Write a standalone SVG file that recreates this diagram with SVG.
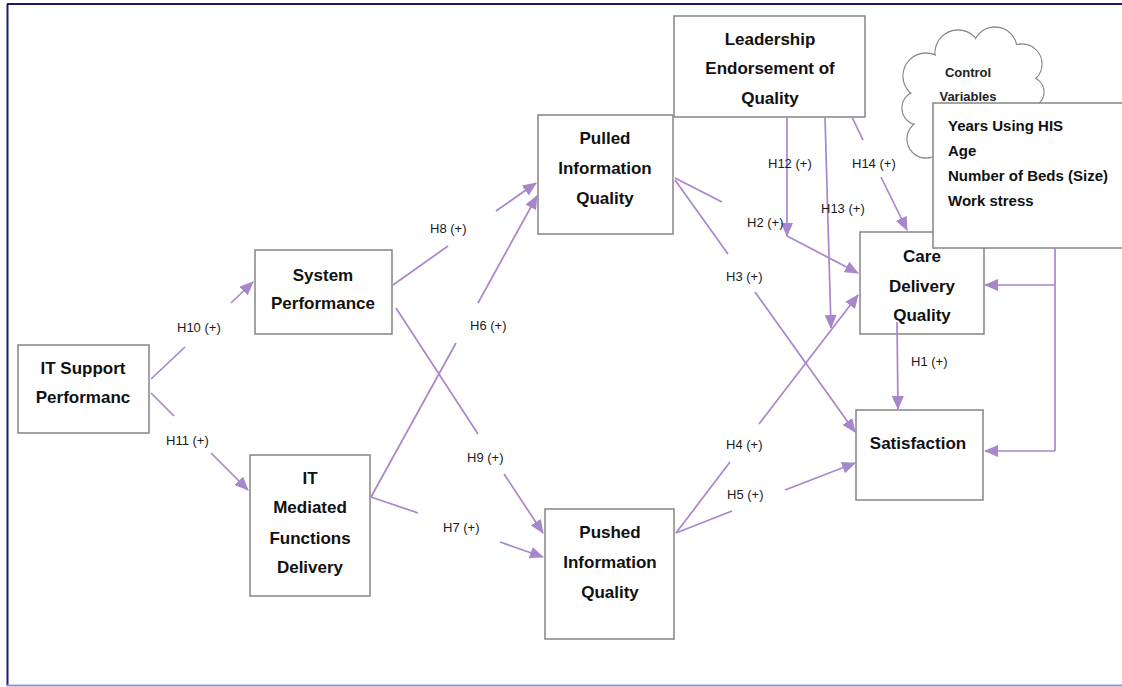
<svg xmlns="http://www.w3.org/2000/svg" width="1122" height="687" viewBox="0 0 1122 687">
  <style>
    .box { fill: #ffffff; stroke: #858585; stroke-width: 1.5; }
    .node { font-family: "Liberation Sans", Arial, sans-serif; font-weight: bold; font-size: 17px; fill: #111111; text-anchor: middle; }
    .lbl { font-family: "Liberation Sans", Arial, sans-serif; font-size: 13px; fill: #1a1a1a; }
    .ctl { font-family: "Liberation Sans", Arial, sans-serif; font-weight: bold; font-size: 15px; fill: #111111; }
    .cv { font-family: "Liberation Sans", Arial, sans-serif; font-weight: bold; font-size: 13px; fill: #222222; text-anchor: middle; }
    .edge { stroke: #a886cc; stroke-width: 1.7; fill: none; }
    .cloud-line { fill: #ffffff; stroke: #8a8a8a; stroke-width: 1.3; }
    .cloud-fill { fill: #ffffff; stroke: none; }
  </style>
  <defs>
    <marker id="arrow" viewBox="0 0 14 12" refX="13" refY="6" markerWidth="14" markerHeight="12" markerUnits="userSpaceOnUse" orient="auto">
      <path d="M0,0 L14,6 L0,12 z" fill="#a886cc"/>
    </marker>
  </defs>

  <rect x="0" y="0" width="1122" height="687" fill="#ffffff"/>

  <!-- page frame -->
  <g id="frame">
    <line x1="7" y1="4" x2="1122" y2="4" stroke="#1b1a6a" stroke-width="2"/>
    <line x1="7.5" y1="4" x2="7.5" y2="686" stroke="#1b1a6a" stroke-width="2"/>
    <line x1="7" y1="685.5" x2="1122" y2="685.5" stroke="#9295d4" stroke-width="2"/>
  </g>

  <!-- constructs -->
  <g id="it-support">
    <rect class="box" x="18" y="345" width="131" height="88"/>
    <text class="node" x="83" y="374">IT Support</text>
    <text class="node" x="83" y="403">Performanc</text>
  </g>
  <g id="system-performance">
    <rect class="box" x="255" y="250" width="137" height="84"/>
    <text class="node" x="323" y="281">System</text>
    <text class="node" x="323" y="309">Performance</text>
  </g>
  <g id="it-mediated">
    <rect class="box" x="250" y="455" width="120" height="141"/>
    <text class="node" x="310" y="484">IT</text>
    <text class="node" x="310" y="513">Mediated</text>
    <text class="node" x="310" y="544">Functions</text>
    <text class="node" x="310" y="573">Delivery</text>
  </g>
  <g id="pulled">
    <rect class="box" x="538" y="115" width="135" height="119"/>
    <text class="node" x="605" y="144">Pulled</text>
    <text class="node" x="605" y="174">Information</text>
    <text class="node" x="605" y="204">Quality</text>
  </g>
  <g id="pushed">
    <rect class="box" x="545" y="509" width="129" height="130"/>
    <text class="node" x="610" y="538">Pushed</text>
    <text class="node" x="610" y="568">Information</text>
    <text class="node" x="610" y="598">Quality</text>
  </g>
  <g id="leadership">
    <rect class="box" x="674" y="16" width="191" height="101"/>
    <text class="node" x="770" y="45">Leadership</text>
    <text class="node" x="770" y="74">Endorsement of</text>
    <text class="node" x="770" y="104">Quality</text>
  </g>
  <g id="care-delivery">
    <rect class="box" x="860" y="232" width="124" height="102"/>
    <text class="node" x="922" y="262">Care</text>
    <text class="node" x="922" y="292">Delivery</text>
    <text class="node" x="922" y="321">Quality</text>
  </g>
  <g id="satisfaction">
    <rect class="box" x="856" y="410" width="127" height="90"/>
    <text class="node" x="918" y="449">Satisfaction</text>
  </g>

  <!-- control variables: cloud and list -->
  <g id="control-cloud">
    <circle class="cloud-line" cx="926" cy="76" r="23"/>
    <circle class="cloud-line" cx="958" cy="53" r="23"/>
    <circle class="cloud-line" cx="995" cy="49" r="22"/>
    <circle class="cloud-line" cx="1022" cy="64" r="20"/>
    <circle class="cloud-line" cx="1029" cy="92" r="15"/>
    <circle class="cloud-line" cx="919" cy="108" r="17"/>
    <circle class="cloud-line" cx="926" cy="139" r="19"/>
    <circle class="cloud-fill" cx="926" cy="76" r="22.3"/>
    <circle class="cloud-fill" cx="958" cy="53" r="22.3"/>
    <circle class="cloud-fill" cx="995" cy="49" r="21.3"/>
    <circle class="cloud-fill" cx="1022" cy="64" r="19.3"/>
    <circle class="cloud-fill" cx="1029" cy="92" r="14.3"/>
    <circle class="cloud-fill" cx="919" cy="108" r="16.3"/>
    <circle class="cloud-fill" cx="926" cy="139" r="18.3"/>
    <circle class="cloud-fill" cx="976" cy="62" r="18"/>
    <circle class="cloud-fill" cx="1008" cy="70" r="18"/>
    <circle class="cloud-fill" cx="940" cy="80" r="20"/>
    <circle class="cloud-fill" cx="965" cy="105" r="42"/>
    <circle class="cloud-fill" cx="1000" cy="88" r="28"/>
    <text class="cv" x="968" y="77">Control</text>
    <text class="cv" x="968" y="101">Variables</text>
  </g>
  <g id="control-list">
    <rect class="box" x="933" y="103" width="200" height="145"/>
    <text class="ctl" x="948" y="131">Years Using HIS</text>
    <text class="ctl" x="948" y="156">Age</text>
    <text class="ctl" x="948" y="181">Number of Beds (Size)</text>
    <text class="ctl" x="948" y="206">Work stress</text>
  </g>

  <!-- paths between constructs -->
  <g id="connectors">
    <!-- H10 -->
    <line class="edge" x1="151" y1="379" x2="185" y2="347"/>
    <line class="edge" x1="231" y1="303" x2="253" y2="282" marker-end="url(#arrow)"/>
    <!-- H11 -->
    <line class="edge" x1="151" y1="393" x2="174" y2="416"/>
    <line class="edge" x1="211" y1="453" x2="248" y2="490" marker-end="url(#arrow)"/>
    <!-- H8 -->
    <line class="edge" x1="393" y1="285" x2="448" y2="246"/>
    <line class="edge" x1="496" y1="211" x2="536" y2="183" marker-end="url(#arrow)"/>
    <!-- H9 -->
    <line class="edge" x1="396" y1="308" x2="478" y2="434"/>
    <line class="edge" x1="504" y1="474" x2="543" y2="533" marker-end="url(#arrow)"/>
    <!-- H6 -->
    <line class="edge" x1="371" y1="497" x2="456" y2="343"/>
    <line class="edge" x1="478" y1="303" x2="537" y2="196" marker-end="url(#arrow)"/>
    <!-- H7 -->
    <line class="edge" x1="371" y1="497" x2="418" y2="513"/>
    <line class="edge" x1="500" y1="542" x2="543" y2="557" marker-end="url(#arrow)"/>
    <!-- H2 -->
    <line class="edge" x1="675" y1="178" x2="722" y2="202"/>
    <line class="edge" x1="787" y1="236" x2="858" y2="273" marker-end="url(#arrow)"/>
    <!-- H3 -->
    <line class="edge" x1="675" y1="180" x2="728" y2="254"/>
    <line class="edge" x1="755" y1="292" x2="855" y2="432" marker-end="url(#arrow)"/>
    <!-- H4 -->
    <line class="edge" x1="676" y1="533" x2="730" y2="462"/>
    <line class="edge" x1="759" y1="424" x2="858" y2="295" marker-end="url(#arrow)"/>
    <!-- H5 -->
    <line class="edge" x1="676" y1="533" x2="732" y2="511"/>
    <line class="edge" x1="785" y1="490" x2="855" y2="463" marker-end="url(#arrow)"/>
    <!-- H12 -->
    <line class="edge" x1="787" y1="117" x2="787" y2="236" marker-end="url(#arrow)"/>
    <!-- H13 -->
    <line class="edge" x1="825" y1="117" x2="831" y2="328" marker-end="url(#arrow)"/>
    <!-- H14 -->
    <line class="edge" x1="852" y1="117" x2="863" y2="140"/>
    <line class="edge" x1="881" y1="177" x2="907" y2="230" marker-end="url(#arrow)"/>
    <!-- H1 -->
    <line class="edge" x1="897" y1="322" x2="898" y2="409" marker-end="url(#arrow)"/>
    <!-- control variables -->
    <line class="edge" x1="1055" y1="248" x2="1055" y2="451"/>
    <line class="edge" x1="1055" y1="285" x2="985" y2="285" marker-end="url(#arrow)"/>
    <line class="edge" x1="1055" y1="451" x2="985" y2="451" marker-end="url(#arrow)"/>
  </g>

  <!-- hypothesis labels -->
  <g id="labels">
    <text class="lbl" x="177" y="332">H10 (+)</text>
    <text class="lbl" x="166" y="445">H11 (+)</text>
    <text class="lbl" x="430" y="233">H8 (+)</text>
    <text class="lbl" x="470" y="330">H6 (+)</text>
    <text class="lbl" x="467" y="462">H9 (+)</text>
    <text class="lbl" x="443" y="532">H7 (+)</text>
    <text class="lbl" x="747" y="227">H2 (+)</text>
    <text class="lbl" x="768" y="168">H12 (+)</text>
    <text class="lbl" x="821" y="213">H13 (+)</text>
    <text class="lbl" x="852" y="168">H14 (+)</text>
    <text class="lbl" x="726" y="281">H3 (+)</text>
    <text class="lbl" x="726" y="449">H4 (+)</text>
    <text class="lbl" x="727" y="499">H5 (+)</text>
    <text class="lbl" x="911" y="366">H1 (+)</text>
  </g>
</svg>
